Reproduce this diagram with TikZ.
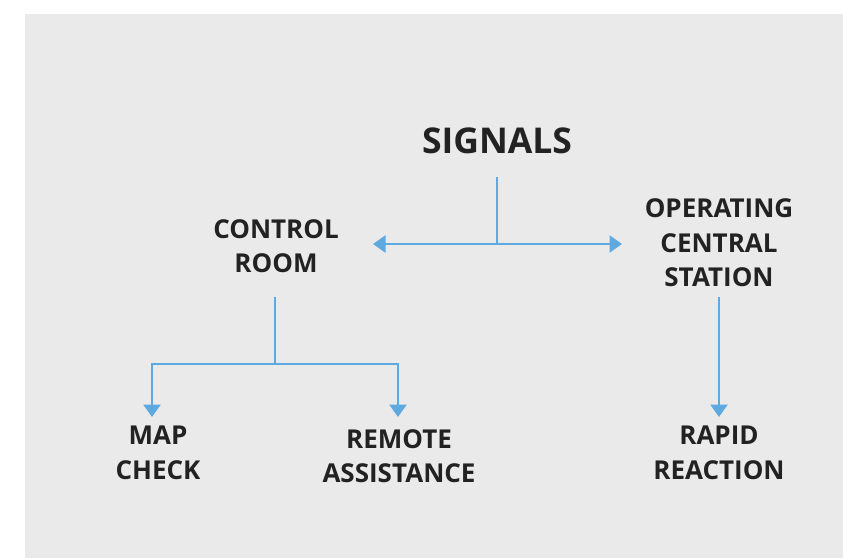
\documentclass[tikz,border=0pt]{standalone}
\usepackage{fontspec}
\setmainfont{Open Sans}
\usetikzlibrary{arrows.meta}
\definecolor{bg}{RGB}{234,234,234}
\definecolor{lineblue}{RGB}{93,169,224}
\definecolor{txt}{RGB}{34,34,34}
\tikzset{
  lbl/.style={align=center, text=txt, font=\fontsize{26}{34.5}\selectfont\bfseries, inner sep=0pt},
  title/.style={text=txt, font=\fontsize{35.5}{40}\selectfont\bfseries, inner sep=0pt},
  conn/.style={draw=lineblue, line width=2.6pt},
  tipped/.style={conn, -{Triangle[length=12.5pt,width=17pt]}},
  both/.style={conn, {Triangle[length=12.5pt,width=17pt]}-{Triangle[length=12.5pt,width=17pt]}}
}
\begin{document}
\begin{tikzpicture}[x=1pt,y=-1pt]
\useasboundingbox (0,0) rectangle (843,558);
\fill[white] (0,0) rectangle (843,558);
\fill[bg] (25,14) rectangle (843,558);

\node[title] (signals) at (497,141) {SIGNALS};
\node[lbl] (control) at (276,246) {CONTROL\\ROOM};
\node[lbl] (ocs) at (719,243) {OPERATING\\CENTRAL\\STATION};
\node[lbl] (map) at (158,453) {MAP\\CHECK};
\node[lbl] (remote) at (399,456) {REMOTE\\ASSISTANCE};
\node[lbl] (rapid) at (719,453) {RAPID\\REACTION};

\coordinate (sigout) at (497,177);
\coordinate (sigjn) at (497,244);
\coordinate (ctlin) at (373,244);
\coordinate (ocsin) at (622,244);
\coordinate (ctlout) at (275,297);
\coordinate (ctljn) at (275,364);
\coordinate (mapin) at (152,417);
\coordinate (remin) at (398,417);
\coordinate (ocsout) at (719,297);
\coordinate (rapin) at (719,417);

\draw[conn] (sigout) -- (sigjn);
\draw[both] (ctlin) -- (ocsin);
\draw[conn] (ctlout) -- (ctljn);
\draw[tipped] (ctljn) -| (mapin);
\draw[tipped] (ctljn) -| (remin);
\draw[tipped] (ocsout) -- (rapin);
\end{tikzpicture}
\end{document}
